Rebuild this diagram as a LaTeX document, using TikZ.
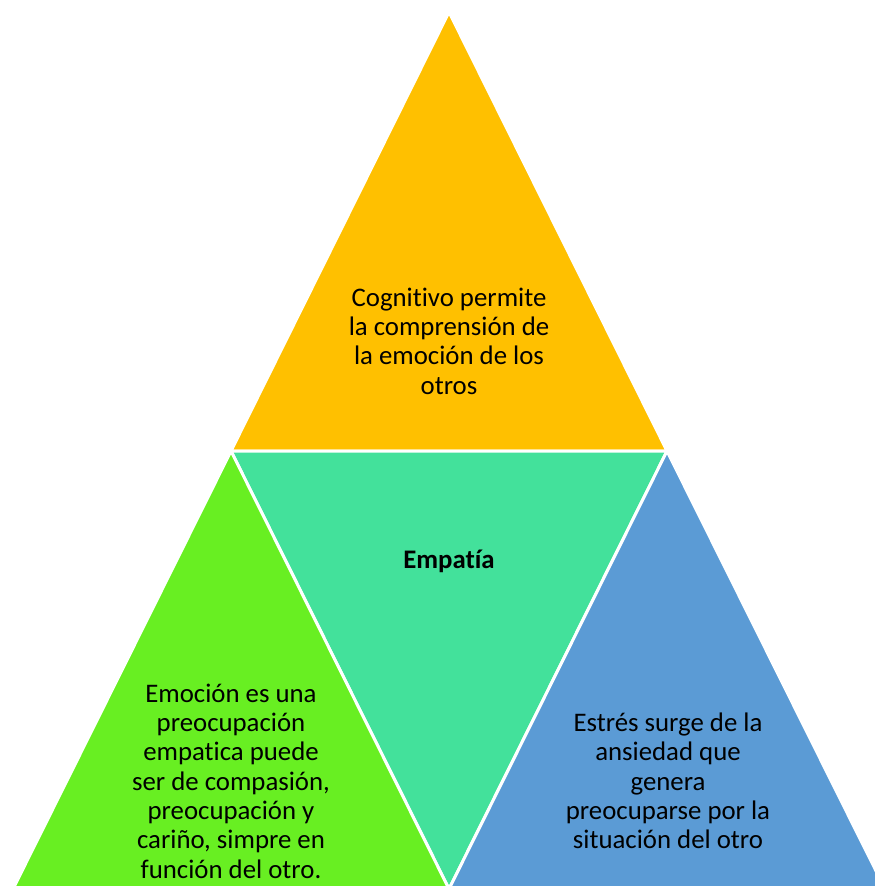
\documentclass[tikz,border=0pt]{standalone}
\usepackage{fontspec}
\setmainfont{Carlito}[Ligatures=CommonOff]
\usetikzlibrary{positioning}
\definecolor{topgold}{HTML}{FFC000}
\definecolor{midteal}{HTML}{43E19B}
\definecolor{leftgreen}{HTML}{68EF22}
\definecolor{rightblue}{HTML}{5B9BD5}

\begin{document}
\begin{tikzpicture}[x=1pt, y=-1pt,
    tri/.style={draw=white, line width=3pt, line join=miter},
    txt/.style={align=center, font=\fontsize{26.8}{29.3}\selectfont, inner sep=0pt}]
    \useasboundingbox (0,0) rectangle (875,886);
    \clip (0,0) rectangle (875,886);
    % corners of the big triangle
    \coordinate (A) at (449,12);
    \coordinate (B) at (231,451);
    \coordinate (C) at (667,451);
    \coordinate (D) at (13,889);
    \coordinate (E) at (449,889);
    \coordinate (F) at (885,889);
    \filldraw[tri, fill=topgold] (A) -- (B) -- (C) -- cycle;
    \filldraw[tri, fill=midteal] (B) -- (C) -- (E) -- cycle;
    \filldraw[tri, fill=leftgreen] (B) -- (D) -- (E) -- cycle;
    \filldraw[tri, fill=rightblue] (C) -- (E) -- (F) -- cycle;
    \node[txt] (cog) at (449,341) {Cognitivo permite\\la comprensión de\\la emoción de los\\otros};
    \node[txt, font=\fontsize{26.8}{29.3}\selectfont\bfseries] (emp) at (449,561) {Empatía};
    \node[txt] (emo) at (231,781) {Emoción es una\\preocupación\\empatica puede\\ser de compasión,\\preocupación y\\cariño, simpre en\\función del otro.};
    \node[txt] (est) at (668,781) {Estrés surge de la\\ansiedad que\\genera\\preocuparse por la\\situación del otro};
\end{tikzpicture}
\end{document}
